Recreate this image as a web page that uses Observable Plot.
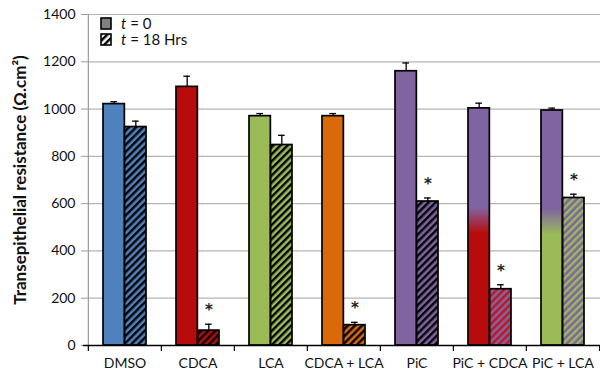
<!DOCTYPE html>
<html>
<head>
<meta charset="utf-8">
<script src="https://cdn.jsdelivr.net/npm/d3@7"></script>
<script src="https://cdn.jsdelivr.net/npm/@observablehq/plot@0.6"></script>
<style>
  html, body { margin: 0; padding: 0; background: #fff; }
  #chart { position: relative; width: 600px; height: 377px; font-family: Lato, "Open Sans", sans-serif; }
  #legend { position: absolute; left: 98px; top: 14px; }
</style>
</head>
<body>
<div id="chart">
  <svg id="legend" width="110" height="40" font-family="Lato, 'Open Sans', sans-serif" font-size="15">
    <rect x="3" y="4" width="10" height="11" fill="#808080" stroke="#000" stroke-width="1.6"></rect>
    <rect x="3" y="20" width="10" height="11" fill="url(#hatch-legend)" stroke="#000" stroke-width="1.6"></rect>
    <text x="23" y="15" fill="#111" xml:space="preserve"><tspan font-style="italic">t</tspan> = 0</text>
    <text x="23" y="31" fill="#111" xml:space="preserve"><tspan font-style="italic">t</tspan> = 18 Hrs</text>
  </svg>
</div>
<script>
// Treatments along the x axis
const categories = ["DMSO", "CDCA", "LCA", "CDCA + LCA", "PiC", "PiC + CDCA", "PiC + LCA"];

// Transepithelial resistance (Ω.cm²) at t = 0 and t = 18 hours, with upper error bars
const t0Values   = [1021, 1094, 970, 970, 1160, 1003, 994];
const t0Errors   = [10, 45, 11, 11, 35, 22, 10];
const t18Values  = [924, 63, 848, 86, 609, 238, 624];
const t18Errors  = [25, 27, 41, 12, 15, 19, 16];
const significant = [false, true, false, true, true, true, true];

// Bar colours: top colour, bottom colour (mixtures fade between them) and stripe colour
const topColors    = ["#4F81BD", "#B80B0B", "#9BBB59", "#D9690A", "#8064A2", "#8064A2", "#8064A2"];
const bottomColors = ["#4F81BD", "#B80B0B", "#9BBB59", "#D9690A", "#8064A2", "#B80B0B", "#9BBB59"];
const stripeColors = ["#000", "#000", "#000", "#000", "#000", "#C0141E", "#9BBB59"];

const yTicks = d3.range(0, 1401, 200);
const yTitle = "Transepithelial resistance (Ω.cm²)";

const rows = categories.map((category, i) => ({
  category,
  t0: t0Values[i], e0: t0Errors[i],
  t18: t18Values[i], e18: t18Errors[i],
  sig: significant[i],
  fill0: topColors[i] === bottomColors[i] ? topColors[i] : `url(#fade-${i})`,
  fill18: `url(#hatch-${i})`
}));

const width = 600, height = 377;
const marginLeft = 87, marginRight = 0;
const band = (width - marginLeft - marginRight) / categories.length;
const gap = 15;                      // space between group edge and the bar pair
const bw = (band - 2 * gap) / 2;     // width of one bar
const cap = 7;                       // error-bar cap width

const chart = Plot.plot({
  width, height,
  marginLeft, marginRight, marginTop: 14, marginBottom: 32,
  style: { fontFamily: "Lato, 'Open Sans', sans-serif", background: "#fff", color: "#111" },
  x: { domain: categories, padding: 0, axis: null },
  y: { domain: [0, 1400], axis: null },
  color: { type: "identity" },
  marks: [
    Plot.gridY(yTicks, { stroke: "#b4b4b4", strokeOpacity: 1, strokeWidth: 1.2 }),
    Plot.ruleX([categories[0]], { dx: -band / 2, y1: 0, y2: 1400, stroke: "#9a9a9a", strokeWidth: 1.2 }),
    Plot.axisY(yTicks, { tickSize: 6, tickPadding: 6, stroke: "#9a9a9a", fontSize: 14, label: null,
      tickFormat: d3.format("d") }),
    Plot.text([yTitle], {
      text: d => d, frameAnchor: "left", textAnchor: "middle", rotate: -90, dx: -67,
      fontSize: 17, fontWeight: "bold", ariaLabel: "y-title"
    }),

    // t = 0 bars
    Plot.barY(rows, { x: "category", y: "t0", fill: "fill0", stroke: "#000", strokeWidth: 1.7,
      insetLeft: gap, insetRight: gap + bw }),
    // t = 18 h bars
    Plot.barY(rows, { x: "category", y: "t18", fill: "fill18", stroke: "#000", strokeWidth: 1.7,
      insetLeft: gap + bw, insetRight: gap }),

    // error bars
    Plot.ruleX(rows, { x: "category", y1: "t0", y2: d => d.t0 + d.e0, dx: -bw / 2, stroke: "#000", strokeWidth: 1.3 }),
    Plot.tickY(rows, { x: "category", y: d => d.t0 + d.e0, stroke: "#000", strokeWidth: 1.3,
      insetLeft: gap + bw / 2 - cap / 2, insetRight: band - gap - bw / 2 - cap / 2 }),
    Plot.ruleX(rows, { x: "category", y1: "t18", y2: d => d.t18 + d.e18, dx: bw / 2, stroke: "#000", strokeWidth: 1.3 }),
    Plot.tickY(rows, { x: "category", y: d => d.t18 + d.e18, stroke: "#000", strokeWidth: 1.3,
      insetLeft: gap + bw + bw / 2 - cap / 2, insetRight: gap + bw / 2 - cap / 2 }),

    // significance markers
    Plot.text(rows.filter(d => d.sig), { x: "category", y: d => d.t18 + d.e18, text: () => "*",
      dx: bw / 2, dy: -14, fontSize: 15, fontWeight: "bold", fill: "#222",
      fontFamily: "'DejaVu Sans', sans-serif" }),

    // category axis: baseline, group separators, labels
    Plot.ruleY([0], { stroke: "#000", strokeWidth: 1.4, insetLeft: -4 }),
    Plot.ruleX(categories, { dx: -band / 2, y1: 0, y2: 0, insetBottom: -6, stroke: "#000", strokeWidth: 1.2 }),
    Plot.ruleX([categories[categories.length - 1]], { dx: band / 2, y1: 0, y2: 0, insetBottom: -6, stroke: "#000", strokeWidth: 1.2 }),
    Plot.axisX({ tickSize: 0, tickPadding: 13, fontSize: 14, label: null })
  ]
});

// Stripe patterns and fades used by the bar fills
const defs = d3.select(chart).insert("defs", ":first-child");
function addHatch(id, bg, fg) {
  const p = defs.append("pattern").attr("id", id).attr("patternUnits", "userSpaceOnUse")
    .attr("width", 5).attr("height", 5).attr("patternTransform", "rotate(45)");
  p.append("rect").attr("width", 5).attr("height", 5).attr("fill", bg);
  p.append("rect").attr("width", 2.4).attr("height", 5).attr("fill", fg);
}
categories.forEach((c, i) => {
  addHatch(`hatch-${i}`, topColors[i], stripeColors[i]);
  if (topColors[i] !== bottomColors[i]) {
    const g = defs.append("linearGradient").attr("id", `fade-${i}`)
      .attr("x1", 0).attr("y1", 0).attr("x2", 0).attr("y2", 1);
    g.append("stop").attr("offset", 0).attr("stop-color", topColors[i]);
    g.append("stop").attr("offset", 0.42).attr("stop-color", topColors[i]);
    g.append("stop").attr("offset", 0.53).attr("stop-color", bottomColors[i]);
    g.append("stop").attr("offset", 1).attr("stop-color", bottomColors[i]);
  }
});
addHatch("hatch-legend", "#fff", "#000");

const container = document.getElementById("chart");
container.insertBefore(chart, document.getElementById("legend"));

// Centre the rotated axis title on the chart's full height rather than the plot frame
const titleNode = chart.querySelector('g[aria-label="y-title"] text');
if (titleNode) {
  const box = titleNode.getBoundingClientRect();
  const top = container.getBoundingClientRect().top;
  const shift = 191 - ((box.top + box.bottom) / 2 - top);
  titleNode.setAttribute("transform", `translate(0,${shift}) ` + (titleNode.getAttribute("transform") || ""));
}
</script>
</body>
</html>
